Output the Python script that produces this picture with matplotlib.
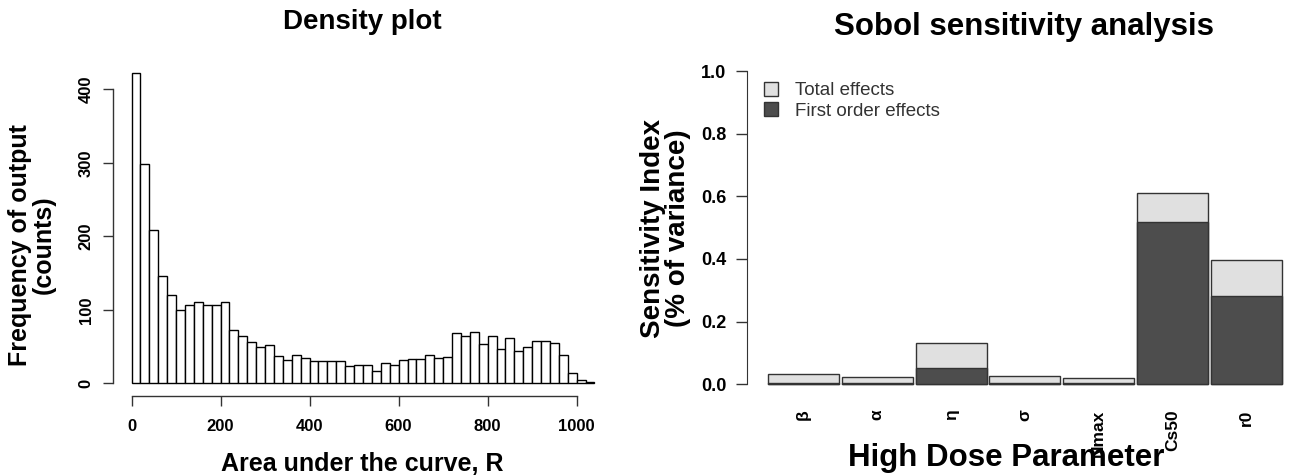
import numpy as np
import matplotlib
matplotlib.use("Agg")
import matplotlib.pyplot as plt
from matplotlib.patches import Patch

plt.rcParams['font.family'] = ['Liberation Sans', 'DejaVu Sans']

# --- Data ---
# histogram counts, bins of width 20 from 0 to 1040
hist_counts = [422, 298, 208, 146, 120, 100, 107, 110, 106, 106,
               110, 72, 64, 56, 49, 52, 37, 32, 39, 35,
               31, 31, 31, 31, 23, 25, 25, 17, 28, 25,
               32, 33, 33, 39, 34, 36, 68, 64, 70, 53,
               65, 47, 62, 44, 50, 57, 58, 55, 38, 14,
               5, 2]
bin_width = 20
hist_ticks = [0, 200, 400, 600, 800, 1000]
hist_yticks = [0, 100, 200, 300, 400]

params = ['β', 'α', 'η', 'σ', 'Nmax', 'Cs50', 'r0']
total_effects = [0.032, 0.022, 0.131, 0.026, 0.020, 0.610, 0.396]
first_effects = [0.004, 0.003, 0.053, 0.003, 0.003, 0.518, 0.282]
sobol_yticks = [0.0, 0.2, 0.4, 0.6, 0.8, 1.0]

W, H = 1291, 476
fig = plt.figure(figsize=(W / 100, H / 100), dpi=100)

axis_col = '#333333'

# --- Left: density histogram ---
ax1 = fig.add_axes([113 / W, (H - 395.7) / H, 500 / W, 335 / H])
edges = np.arange(len(hist_counts)) * bin_width
ax1.bar(edges, hist_counts, width=bin_width, align='edge',
        color='white', edgecolor='black', linewidth=1.0)
xmax = len(hist_counts) * bin_width
ax1.set_xlim(-0.04 * xmax, 1.04 * xmax)
ymax = max(hist_counts)
ax1.set_ylim(-0.04 * ymax, 1.04 * ymax)
for s in ['top', 'right']:
    ax1.spines[s].set_visible(False)
ax1.spines['left'].set_bounds(0, 400)
ax1.spines['bottom'].set_bounds(0, 1000)
for s in ['left', 'bottom']:
    ax1.spines[s].set_color(axis_col)
    ax1.spines[s].set_linewidth(1.0)
ax1.set_xticks(hist_ticks)
ax1.set_yticks(hist_yticks)
ax1.tick_params(axis='both', length=7, width=1.0, color=axis_col, labelsize=12)
ax1.tick_params(axis='x', pad=10)
ax1.tick_params(axis='y', pad=7)
for lab in ax1.get_xticklabels():
    lab.set_fontweight('bold')
for lab in ax1.get_yticklabels():
    lab.set_fontweight('bold')
    lab.set_rotation(90)
    lab.set_va('center')

fig.text(362 / W, 1 - 22 / H, 'Density plot', ha='center', va='center',
         fontsize=20, fontweight='bold')
fig.text(362 / W, 1 - 464 / H, 'Area under the curve, R', ha='center', va='center',
         fontsize=18, fontweight='bold')
# two-line y label, lines set close together as in the reference
fig.text(20 / W, 1 - 245 / H, 'Frequency of output', ha='center', va='center',
         rotation=90, fontsize=18, fontweight='bold')
fig.text(44 / W, 1 - 245 / H, '(counts)', ha='center', va='center',
         rotation=90, fontsize=18, fontweight='bold')

# --- Right: Sobol sensitivity bars ---
ax2 = fig.add_axes([747.4 / W, (H - 396.8) / H, 555 / W, 338.3 / H])
x = np.arange(len(params))
bw = 0.965
ax2.bar(x, total_effects, width=bw, color='#e0e0e0', edgecolor=axis_col, linewidth=1.0)
ax2.bar(x, first_effects, width=bw, color='#4d4d4d', edgecolor=axis_col, linewidth=1.0)
lo = -bw / 2
hi = len(params) - 1 + bw / 2
ax2.set_xlim(lo - 0.04 * (hi - lo), hi + 0.04 * (hi - lo))
ax2.set_ylim(-0.04, 1.04)
for s in ['top', 'right', 'bottom']:
    ax2.spines[s].set_visible(False)
ax2.spines['left'].set_bounds(0, 1)
ax2.spines['left'].set_color(axis_col)
ax2.set_yticks(sobol_yticks)
ax2.set_yticklabels([f'{v:.1f}' for v in sobol_yticks], fontweight='bold')
ax2.tick_params(axis='y', length=8, width=1.0, color=axis_col, labelsize=13, pad=7)
ax2.set_xticks(x)
ax2.set_xticklabels(params, rotation=90, fontweight='bold', fontsize=12.5)
ax2.tick_params(axis='x', length=0, pad=9)

leg = ax2.legend(handles=[Patch(facecolor='#e0e0e0', edgecolor=axis_col, label='Total effects'),
                          Patch(facecolor='#4d4d4d', edgecolor=axis_col, label='First order effects')],
                 loc='upper left', bbox_to_anchor=(764 / W, 1 - 82 / H),
                 bbox_transform=fig.transFigure, frameon=False, fontsize=13.5,
                 handlelength=0.75, handleheight=0.75, handletextpad=0.9,
                 labelspacing=0.15, borderpad=0, borderaxespad=0)
for t in leg.get_texts():
    t.set_color('#333333')

fig.text(1024 / W, 1 - 27 / H, 'Sobol sensitivity analysis', ha='center', va='center',
         fontsize=22.5, fontweight='bold')
fig.text(1006 / W, 1 - 458 / H, 'High Dose Parameter', ha='center', va='center',
         fontsize=22.5, fontweight='bold')
fig.text(666 / W, 1 - 228 / H, 'Sensitivity Index\n(% of variance)', ha='center', va='center',
         rotation=90, fontsize=20, fontweight='bold', linespacing=0.95)

fig.savefig('out.png', dpi=100)
